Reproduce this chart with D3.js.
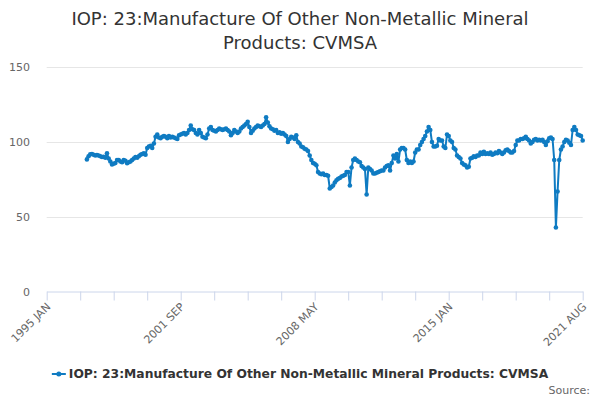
<!DOCTYPE html>
<html lang="en">
<head>
    <meta charset="UTF-8">
    <title>IOP: 23 CVMSA</title>
    <script src="https://cdn.jsdelivr.net/npm/d3@7"></script>
    <style>
        body { margin: 0; background: #fff; font-family: "DejaVu Sans", Verdana, sans-serif; }
        svg { display: block; }
    </style>
</head>
<body>
    <div id="chart"></div>
    <script>
        const title = ["IOP: 23:Manufacture Of Other Non-Metallic Mineral", "Products: CVMSA"];
        const seriesName = "IOP: 23:Manufacture Of Other Non-Metallic Mineral Products: CVMSA";

        // x axis runs in months from the first tick; ticks every 20, labels every 80
        const tickLabels = ["1995 JAN", "2001 SEP", "2008 MAY", "2015 JAN", "2021 AUG"];
        const yTicks = [0, 50, 100, 150];
        const firstMonth = 24;

        // monthly values
        const values = [
            88.4, 90.5, 91.8, 92, 91.5, 91, 91.3, 91, 90.5, 90, 90.2, 89.5, 92.5,
            89, 87, 85, 85.5, 86, 88, 88, 87, 86.5, 88, 87.5, 85.8,
            86.5, 87, 88, 89, 90, 89.5, 90.5, 91.5, 92, 92.4, 91.5, 96,
            97, 97.5, 96, 99, 103.5, 105, 103, 102.5, 103.5, 104, 103.5, 102.5,
            104, 103, 103.5, 103, 102.5, 102, 104.5, 105, 105.5, 106, 105, 106,
            108, 111, 108.5, 108, 106, 105, 108, 106, 103.5, 103, 102.5, 105,
            109, 110, 108, 107.5, 107, 108, 109, 108.5, 108, 108.5, 109, 108,
            107, 104.5, 106, 108, 107, 106, 107, 109, 110, 111, 112, 113.5,
            110, 106, 107.5, 109, 110, 111, 110.5, 110, 111, 112, 116.5, 113,
            110.5, 109, 108.5, 107.5, 108, 106, 106.5, 105.5, 106, 105, 104, 100,
            102, 103.5, 103, 102, 104.5, 100, 99, 97, 96.5, 95.5, 95, 94,
            91, 88, 86, 85.5, 84.5, 80, 79, 78.5, 79, 78, 78, 77.5,
            69, 70, 71, 73, 74.5, 75.5, 76, 77, 77.5, 78, 80, 80,
            71, 83, 88, 89, 88, 87, 86.5, 84, 83, 82, 65, 83,
            82, 81, 79, 79, 79.5, 80, 80.5, 81, 81, 83, 84, 84.5,
            81, 86, 91, 89, 92, 87, 95, 96, 96, 95, 88, 86,
            87, 86, 87, 93, 95, 95, 98, 100, 102, 104, 107, 110,
            108, 100, 97, 97, 97.5, 102, 101, 101, 97, 96, 105, 104,
            101, 100, 96, 95, 91, 90, 89, 86, 85, 84.5, 83, 83.5,
            89, 89.5, 90.5, 90, 91, 91, 93, 92, 93.5, 92, 92.5, 92,
            93, 91.5, 92, 93, 92.5, 94, 93, 92, 93, 94.5, 95, 94,
            93, 93, 94, 98, 101, 101, 102, 102, 102.5, 103.5, 102, 101,
            99, 100, 101.5, 102, 101, 101.5, 101, 101.5, 100, 98, 100.5, 102.5,
            103, 102, 88, 43, 67, 88, 95, 97, 100, 101.5, 101, 99.5,
            98, 108, 110, 108, 105, 104.5, 104, 101
        ];

        const width = 600, height = 400;
        const color = "#0f7bc2";
        const margin = { left: 46.7, right: 17.3, top: 67, bottom: 108 };
        const lastMonth = (tickLabels.length - 1) * 80;

        const svg = d3.select("#chart").append("svg")
            .attr("width", width)
            .attr("height", height);

        const x = d3.scaleLinear()
            .domain([0, lastMonth])
            .range([margin.left, width - margin.right]);
        const y = d3.scaleLinear()
            .domain([0, 150])
            .range([height - margin.bottom, margin.top]);

        // title
        svg.append("text")
            .attr("x", width / 2)
            .attr("text-anchor", "middle")
            .attr("fill", "#333")
            .style("font-size", "18px")
            .selectAll("tspan")
            .data(title)
            .join("tspan")
            .attr("x", width / 2)
            .attr("y", (d, i) => 25 + i * 24)
            .text(d => d);

        // grid + y labels
        svg.append("g")
            .selectAll("line")
            .data(yTicks.slice(1))
            .join("line")
            .attr("x1", margin.left)
            .attr("x2", width - margin.right)
            .attr("y1", d => y(d) + 0.5)
            .attr("y2", d => y(d) + 0.5)
            .attr("stroke", "#e6e6e6");

        svg.append("g")
            .selectAll("text")
            .data(yTicks)
            .join("text")
            .attr("x", 30)
            .attr("y", d => y(d) + 4)
            .attr("text-anchor", "end")
            .attr("fill", "#666")
            .style("font-size", "11px")
            .text(d => d);

        // x axis
        const xAxis = svg.append("g")
            .attr("transform", `translate(0,${y(0) - 0.5})`)
            .call(d3.axisBottom(x)
                .tickValues(d3.range(0, lastMonth + 1, 20))
                .tickSize(9)
                .tickSizeOuter(0)
                .tickFormat(d => d % 80 === 0 ? tickLabels[d / 80] : ""));
        xAxis.select(".domain").attr("stroke", "#ccd6eb");
        xAxis.selectAll(".tick line").attr("stroke", "#ccd6eb");
        xAxis.selectAll(".tick text")
            .attr("fill", "#666")
            .style("font-family", "DejaVu Sans, sans-serif")
            .style("font-size", "11px")
            .attr("text-anchor", "end")
            .attr("dy", null)
            .attr("y", 0)
            .attr("transform", "translate(4,16) rotate(-45)");

        // series
        const points = values.map((v, i) => ({ m: firstMonth + i, v }));
        const line = d3.line()
            .x(d => x(d.m))
            .y(d => y(d.v));

        svg.append("path")
            .datum(points)
            .attr("fill", "none")
            .attr("stroke", color)
            .attr("stroke-width", 2)
            .attr("stroke-linejoin", "round")
            .attr("d", line);

        svg.append("g")
            .selectAll("circle")
            .data(points)
            .join("circle")
            .attr("cx", d => x(d.m))
            .attr("cy", d => y(d.v))
            .attr("r", 2.3)
            .attr("fill", color);

        // legend
        const legend = svg.append("g");
        const legendText = legend.append("text")
            .attr("y", 378)
            .attr("fill", "#333")
            .style("font-size", "12.3px")
            .style("font-weight", "bold")
            .text(seriesName);
        const tw = legendText.node().getComputedTextLength();
        const lx = (width - (tw + 17)) / 2;
        legendText.attr("x", lx + 17);
        legend.append("line")
            .attr("x1", lx).attr("x2", lx + 14)
            .attr("y1", 374).attr("y2", 374)
            .attr("stroke", color)
            .attr("stroke-width", 2);
        legend.append("circle")
            .attr("cx", lx + 7).attr("cy", 374)
            .attr("r", 2.5)
            .attr("fill", color);

        svg.append("text")
            .attr("x", 590)
            .attr("y", 394)
            .attr("text-anchor", "end")
            .attr("fill", "#666")
            .style("font-size", "11px")
            .text("Source:");
    </script>
</body>
</html>
